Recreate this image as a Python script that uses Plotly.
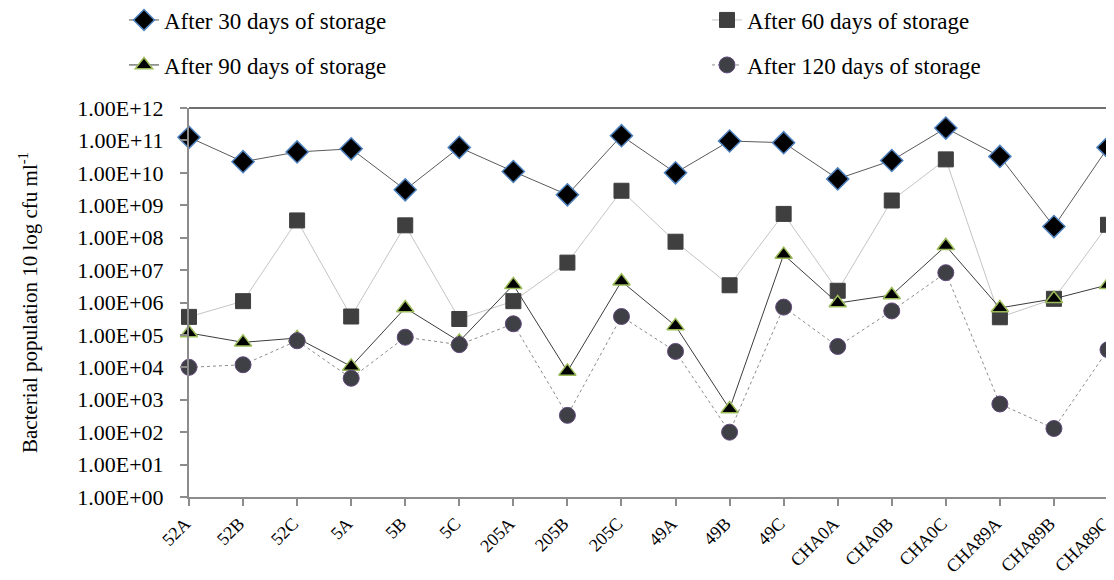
import plotly.graph_objects as go

categories = ["52A", "52B", "52C", "5A", "5B", "5C", "205A", "205B", "205C",
              "49A", "49B", "49C", "CHA0A", "CHA0B", "CHA0C", "CHA89A", "CHA89B", "CHA89C"]

days30 = [1.25e11, 2.2e10, 4.4e10, 5.5e10, 3.0e9, 6.1e10, 1.1e10, 2.1e9, 1.4e11,
          1.0e10, 9.6e10, 8.5e10, 6.5e9, 2.4e10, 2.4e11, 3.2e10, 2.2e8, 6.1e10]
days60 = [3.6e5, 1.1e6, 3.4e8, 3.7e5, 2.4e8, 3.1e5, 1.1e6, 1.7e7, 2.8e9,
          7.5e7, 3.4e6, 5.4e8, 2.3e6, 1.4e9, 2.6e10, 3.5e5, 1.3e6, 2.5e8]
days90 = [1.15e5, 5.9e4, 8.0e4, 1.07e4, 6.8e5, 6.3e4, 3.5e6, 7.5e3, 4.5e6,
          1.9e5, 5.2e2, 3.0e7, 9.6e5, 1.7e6, 5.6e7, 6.8e5, 1.3e6, 3.5e6]
days120 = [1.0e4, 1.2e4, 6.6e4, 4.6e3, 8.5e4, 5.0e4, 2.2e5, 3.3e2, 3.7e5,
           3.1e4, 1.0e2, 7.2e5, 4.4e4, 5.5e5, 8.3e6, 7.4e2, 1.3e2, 3.5e4]

series_names = ["After 30 days of storage", "After 60 days of storage",
                "After 90 days of storage", "After 120 days of storage"]

exponents = list(range(0, 13))
tick_vals = [10 ** e for e in exponents]
tick_text = ["1.00E+%02d" % e for e in exponents]

FONT = "Liberation Serif, Times New Roman, serif"

# the page adds an 8px body margin, so work in page pixels minus 8
OFF = 8
W, H = 1114 - OFF, 580 - OFF
PL, PR, PT, PB = 189 - OFF, 1108 - OFF, 108 - OFF, 497 - OFF


def px_x(p):
    return (p - OFF - PL) / (PR - PL)


def px_y(p):
    return (PB - (p - OFF)) / (PB - PT)


fig = go.Figure()

fig.add_trace(go.Scatter(
    x=categories, y=days30, name=series_names[0], mode="lines+markers",
    line=dict(color="#5a5a5a", width=1),
    marker=dict(symbol="diamond", size=17, color="black",
                line=dict(color="#4f81bd", width=1.5)),
    cliponaxis=False, legend="legend"))
fig.add_trace(go.Scatter(
    x=categories, y=days60, name=series_names[1], mode="lines+markers",
    line=dict(color="#c4c4c4", width=1),
    marker=dict(symbol="square", size=15, color="#3f3f3f",
                line=dict(color="#3f3f3f", width=1)),
    cliponaxis=False, legend="legend2"))
fig.add_trace(go.Scatter(
    x=categories, y=days90, name=series_names[2], mode="lines+markers",
    line=dict(color="#3c3c3c", width=1),
    marker=dict(symbol="triangle-up", size=15, color="black",
                line=dict(color="#9bbb59", width=1.5)),
    cliponaxis=False, legend="legend3"))
fig.add_trace(go.Scatter(
    x=categories, y=days120, name=series_names[3], mode="lines+markers",
    line=dict(color="#8c8c8c", width=1, dash="dot"),
    marker=dict(symbol="circle", size=16, color="#3f3f46",
                line=dict(color="#604a7b", width=1)),
    cliponaxis=False, legend="legend4"))


def leg(xpx, ypx):
    return dict(orientation="h", font=dict(family=FONT, size=23, color="black"),
                bgcolor="rgba(0,0,0,0)", xanchor="left", yanchor="middle",
                x=px_x(xpx), y=px_y(ypx), itemwidth=30)


fig.update_layout(
    width=W, height=H,
    margin=dict(l=PL, r=W - PR, t=PT, b=H - PB, autoexpand=False),
    plot_bgcolor="white", paper_bgcolor="white",
    font=dict(family=FONT, size=22, color="black"),
    showlegend=True,
    legend=leg(124, 20),
    legend2=leg(707, 20),
    legend3=leg(124, 65),
    legend4=leg(707, 65),
    xaxis=dict(
        type="category", range=[0, len(categories) - 1],
        showline=True, linecolor="#8c8c8c", linewidth=2,
        ticks="outside", ticklen=7, tickcolor="#8c8c8c", tickwidth=1.5,
        tickangle=-45, showgrid=False, zeroline=False,
        ticklabelshift=-4,
        tickfont=dict(family=FONT, size=18, color="black"),
    ),
    yaxis=dict(
        type="log", range=[0, 12], tickvals=tick_vals, ticktext=tick_text,
        showline=True, linecolor="#8c8c8c", linewidth=2,
        ticks="outside", ticklen=7, tickcolor="#8c8c8c", tickwidth=1.5,
        showgrid=False, zeroline=False,
        tickfont=dict(family=FONT, size=22, color="black"),
        ticklabelstandoff=12,
        title=dict(text="Bacterial population 10 log cfu ml<sup>-1</sup>",
                   font=dict(family=FONT, size=21, color="black"), standoff=34),
    ),
    shapes=[
        dict(type="line", xref="paper", yref="paper", x0=0, x1=1, y0=1, y1=1,
             line=dict(color="#404040", width=1.5)),
        dict(type="line", xref="paper", yref="paper", x0=1, x1=1, y0=0, y1=1,
             line=dict(color="#404040", width=1.5)),
    ],
)

fig.write_html("out.html")
